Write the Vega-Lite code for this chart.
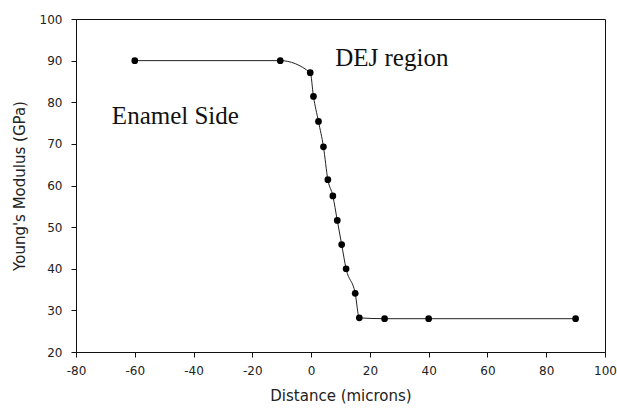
{
  "$schema": "https://vega.github.io/schema/vega-lite/v6.json",
  "width": 529,
  "height": 333,
  "autosize": {"type": "none"},
  "padding": {"left": 76, "top": 19, "right": 12, "bottom": 56},
  "background": "white",
  "config": {
    "view": {"stroke": "#111", "strokeWidth": 1},
    "axis": {
      "grid": false,
      "domainColor": "#111",
      "tickColor": "#111",
      "tickSize": 5,
      "labelFont": "DejaVu Sans",
      "labelFontSize": 12,
      "labelColor": "#222",
      "titleFont": "DejaVu Sans",
      "titleFontSize": 15,
      "titleFontWeight": "normal",
      "titleColor": "#222",
      "labelExpr": "replace(datum.label, '\u2212', '-')"
    }
  },
  "datasets": {
    "pts": [
      {"d": -60, "E": 90},
      {"d": -10.5, "E": 90},
      {"d": -0.3, "E": 87.1},
      {"d": 0.8, "E": 81.4},
      {"d": 2.5, "E": 75.4},
      {"d": 4.2, "E": 69.3},
      {"d": 5.7, "E": 61.4},
      {"d": 7.4, "E": 57.5},
      {"d": 8.9, "E": 51.6},
      {"d": 10.4, "E": 45.8},
      {"d": 11.9, "E": 40.0},
      {"d": 15.0, "E": 34.1},
      {"d": 16.4, "E": 28.2},
      {"d": 25, "E": 28},
      {"d": 40, "E": 28},
      {"d": 90, "E": 28}
    ],
    "notes": [
      {"d": 8.2, "E": 88.8, "t": "DEJ region"},
      {"d": -67.8, "E": 74.8, "t": "Enamel Side"}
    ]
  },
  "layer": [
    {
      "data": {"name": "pts"},
      "mark": {"type": "line", "interpolate": "monotone", "color": "#222", "strokeWidth": 1},
      "encoding": {
        "x": {"field": "d", "type": "quantitative", "scale": {"domain": [-80, 100], "nice": false},
              "axis": {"values": [-80, -60, -40, -20, 0, 20, 40, 60, 80, 100], "title": "Distance (microns)", "labelPadding": 8, "titlePadding": 12, "labelFlush": false}},
        "y": {"field": "E", "type": "quantitative", "scale": {"domain": [20, 100], "nice": false, "zero": false},
              "axis": {"values": [20, 30, 40, 50, 60, 70, 80, 90, 100], "title": "Young's Modulus (GPa)", "labelPadding": 9, "titlePadding": 12, "labelFlush": false}}
      }
    },
    {
      "data": {"name": "pts"},
      "mark": {"type": "circle", "color": "#000", "opacity": 1, "size": 45},
      "encoding": {
        "x": {"field": "d", "type": "quantitative"},
        "y": {"field": "E", "type": "quantitative"}
      }
    },
    {
      "data": {"name": "notes"},
      "mark": {"type": "text", "font": "Liberation Serif", "fontSize": 25, "align": "left", "baseline": "alphabetic", "color": "#111"},
      "encoding": {
        "x": {"field": "d", "type": "quantitative"},
        "y": {"field": "E", "type": "quantitative"},
        "text": {"field": "t"}
      }
    }
  ]
}
